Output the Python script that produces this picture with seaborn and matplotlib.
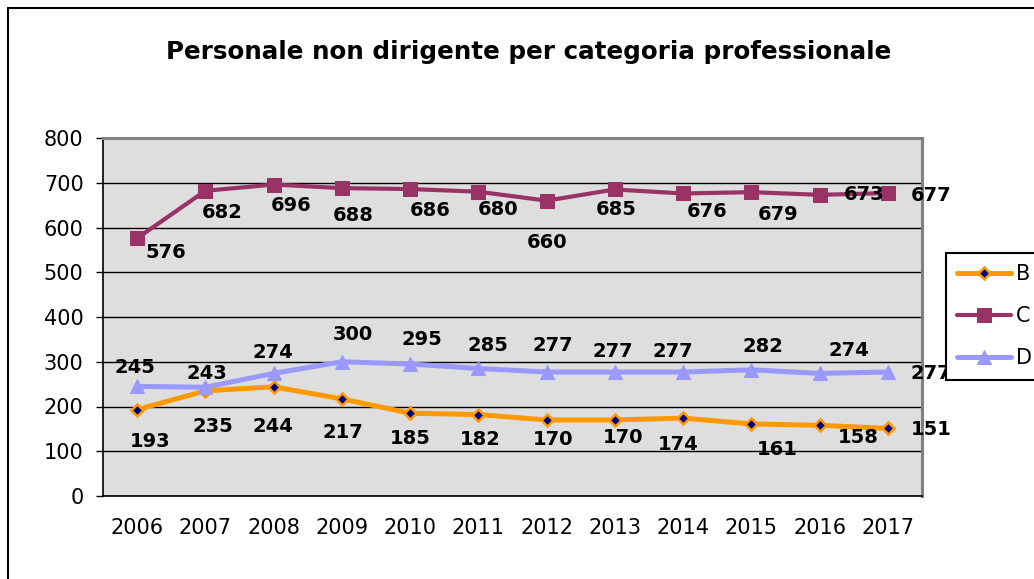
import matplotlib
matplotlib.use('Agg')
import matplotlib.pyplot as plt
from matplotlib.patches import Rectangle
from matplotlib.ticker import FixedLocator, MultipleLocator
import pandas as pd
import seaborn as sns

anni = [2006, 2007, 2008, 2009, 2010, 2011, 2012, 2013, 2014, 2015, 2016, 2017]
cat_b = [193, 235, 244, 217, 185, 182, 170, 170, 174, 161, 158, 151]
cat_c = [576, 682, 696, 688, 686, 680, 660, 685, 676, 679, 673, 677]
cat_d = [245, 243, 274, 300, 295, 285, 277, 277, 277, 282, 274, 277]

titolo = 'Personale non dirigente per categoria professionale'

# spostamento delle etichette dati (pixel: dx a destra, dy verso il basso)
off_b = [(13, 32), (8, 36), (-1, 40), (1, 34), (0, 25), (2, 25), (6, 20), (8, 18),
         (-5, 26), (26, 26), (39, 12), (43, 1)]
off_c = [(29, 14), (17, 22), (18, 21), (11, 27), (20, 21), (20, 18), (0, 42), (1, 20),
         (24, 18), (27, 22), (44, 0), (43, 2)]
off_d = [(-2, -19), (2, -14), (-1, -21), (11, -27), (12, -24), (10, -23), (6, -27),
         (-2, -21), (-10, -21), (12, -23), (29, -23), (43, 1)]

df = pd.DataFrame({'anno': anni, 'B': cat_b, 'C': cat_c, 'D': cat_d})

sns.set_style('white')
plt.rcParams['font.family'] = ['DejaVu Sans']
plt.rcParams['text.color'] = 'black'
plt.rcParams['xtick.color'] = 'black'
plt.rcParams['ytick.color'] = 'black'

fig = plt.figure(figsize=(10.34, 5.79), dpi=100)
ax = fig.add_axes([103 / 1034, 1 - 496 / 579, (922 - 103) / 1034, (496 - 138) / 579])
ax.set_facecolor('#DEDEDE')

stili = {
    'B': dict(color='#FF9900', marker='D', markersize=6.5, markerfacecolor='#000080',
              markeredgecolor='#FF9900', markeredgewidth=1.8, linewidth=3.6),
    'C': dict(color='#993366', marker='s', markersize=10, markerfacecolor='#993366',
              markeredgecolor='#993366', linewidth=3.0),
    'D': dict(color='#9999FF', marker='^', markersize=10.5, markerfacecolor='#9999FF',
              markeredgecolor='#9999FF', linewidth=3.6),
}
for serie in ['B', 'C', 'D']:
    sns.lineplot(data=df, x='anno', y=serie, ax=ax, label=serie, zorder=3, **stili[serie])

for valori, offs in [(cat_b, off_b), (cat_c, off_c), (cat_d, off_d)]:
    for a, v, (dx, dy) in zip(anni, valori, offs):
        ax.annotate(str(v), (a, v), xytext=(dx * 0.72, -dy * 0.72), textcoords='offset points',
                    ha='center', va='center', fontsize=14, fontweight='bold', color='black',
                    zorder=5, annotation_clip=False)

ax.set_ylim(0, 800)
ax.set_xlim(anni[0] - 0.5, anni[-1] + 0.5)
ax.yaxis.set_major_locator(MultipleLocator(100))
ax.set_xticks(anni)
ax.xaxis.set_minor_locator(FixedLocator([a - 0.5 for a in anni] + [anni[-1] + 0.5]))
ax.grid(axis='y', color='black', linewidth=1.0)
ax.set_axisbelow(True)
ax.tick_params(axis='x', which='major', length=0, pad=16, labelsize=15, labelcolor='black')
ax.tick_params(axis='x', which='minor', length=5, width=1, color='black', direction='out')
ax.tick_params(axis='y', length=5, width=1, color='black', direction='out', pad=9, labelsize=15,
               left=True, labelcolor='black')
ax.set_xlabel('')
ax.set_ylabel('')

for lato in ['left', 'bottom']:
    ax.spines[lato].set_color('black')
    ax.spines[lato].set_linewidth(1.2)
for lato in ['right', 'top']:
    ax.spines[lato].set_color('#808080')
    ax.spines[lato].set_linewidth(2.2)

leg = ax.legend(loc='upper left', bbox_to_anchor=(946 / 1034, 1 - 253 / 579),
                bbox_transform=fig.transFigure, fontsize=15, frameon=True, fancybox=False,
                handlelength=2.55, labelspacing=1.05, borderpad=0.55, handletextpad=0.25,
                borderaxespad=0)
leg.get_frame().set_edgecolor('black')
leg.get_frame().set_linewidth(1.5)
leg.get_frame().set_facecolor('white')
leg.get_frame().set_alpha(1)
for t in leg.get_texts():
    t.set_color('black')

fig.text(529 / 1034, 1 - 52 / 579, titolo, ha='center', va='center', fontsize=17.7,
         fontweight='bold', color='black')

fig.patches.append(Rectangle((8 / 1034, -0.2), 1.5, 1.2 - 8 / 579, transform=fig.transFigure,
                             fill=False, edgecolor='black', linewidth=1.5, clip_on=False))

fig.savefig('out.png', dpi=100)
